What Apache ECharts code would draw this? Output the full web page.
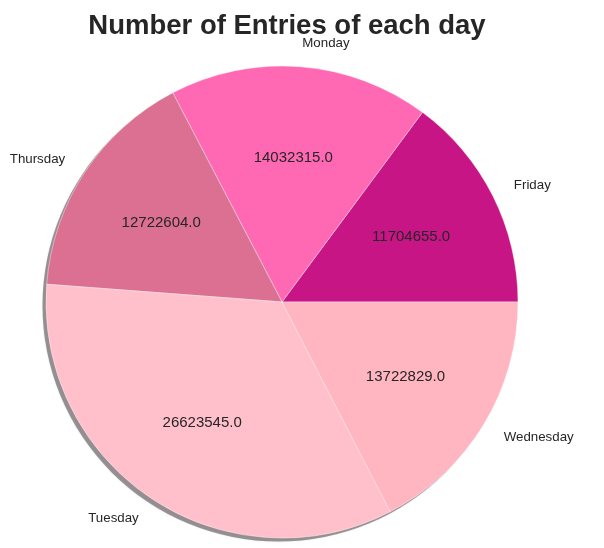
<!DOCTYPE html>
<html>
<head>
<meta charset="utf-8">
<script src="https://cdn.jsdelivr.net/npm/echarts@6/dist/echarts.min.js"></script>
<style>
html,body{margin:0;padding:0;background:#fff;}
#chart{width:604px;height:548px;}
</style>
</head>
<body>
<div id="chart"></div>
<script>
var days = ['Friday', 'Monday', 'Thursday', 'Tuesday', 'Wednesday'];
var entries = [11704655, 14032315, 12722604, 26623545, 13722829];
var colors = ['#C71585', '#FF69B4', '#DB7093', '#FFC0CB', '#FFB6C1'];
var titleText = 'Number of Entries of each day';

var R = 236;
var CX = 282, CY = 302;
var FONT = '"Liberation Sans", Arial, sans-serif';
var total = entries.reduce(function (a, b) { return a + b; }, 0);

var chart = echarts.init(document.getElementById('chart'), null, {renderer: 'canvas'});
chart.setOption({
  backgroundColor: '#ffffff',
  animation: false,
  title: {
    text: titleText,
    left: CX, top: 7, textAlign: 'center',
    textStyle: {fontFamily: FONT, fontSize: 27.5, fontWeight: 'bold', color: '#262626'}
  },
  series: [
    {
      type: 'pie', silent: true, z: 1,
      center: [CX - 3.5, CY + 3.5], radius: [0, R],
      startAngle: 0, clockwise: false,
      label: {show: false}, labelLine: {show: false},
      itemStyle: {color: 'rgba(90,80,85,0.55)', borderWidth: 0, shadowBlur: 1.5, shadowColor: 'rgba(90,80,85,0.4)'},
      data: [{name: 'shadow', value: total}]
    },
    {
      type: 'pie', z: 2, silent: true,
      center: [CX, CY], radius: [0, R],
      startAngle: 0, clockwise: false,
      avoidLabelOverlap: false,
      itemStyle: {borderColor: 'rgba(255,255,255,0.7)', borderWidth: 0.6},
      label: {
        show: true, position: 'outside', formatter: '{b}',
        fontFamily: FONT, fontSize: 13.3, color: '#262626',
        distanceToLabelLine: 0
      },
      labelLine: {show: false, length: R * 0.1, length2: 0},
      data: days.map(function (d, i) {
        return {name: d, value: entries[i], itemStyle: {color: colors[i]}};
      })
    },
    {
      type: 'pie', z: 3, silent: true,
      center: [CX, CY], radius: [R * 0.2, R],
      startAngle: 0, clockwise: false,
      avoidLabelOverlap: false,
      itemStyle: {color: 'rgba(0,0,0,0)', borderWidth: 0},
      label: {
        show: true, position: 'inside',
        formatter: function (p) { return p.value.toFixed(1); },
        fontFamily: FONT, fontSize: 15, color: '#262626'
      },
      labelLine: {show: false},
      data: days.map(function (d, i) { return {name: d, value: entries[i]}; })
    }
  ]
});
</script>
</body>
</html>
